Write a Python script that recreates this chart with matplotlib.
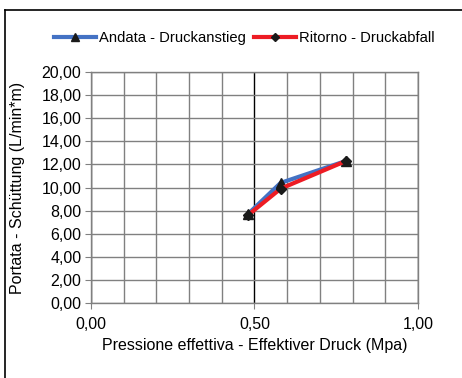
import matplotlib
matplotlib.use("Agg")
import matplotlib.pyplot as plt
from matplotlib.ticker import MultipleLocator, FuncFormatter
from matplotlib.lines import Line2D

plt.rcParams['font.family'] = ['Liberation Sans', 'DejaVu Sans']

andata_x = [0.48, 0.58, 0.78]
andata_y = [7.7, 10.4, 12.3]
ritorno_x = [0.48, 0.58, 0.78]
ritorno_y = [7.6, 9.9, 12.3]

FS = 11.5
LFS = 10.6

fig = plt.figure(figsize=(4.62, 3.78), dpi=100)
ax = fig.add_axes([91/462, 75/378, 327/462, 231/378])

ax.plot(andata_x, andata_y, color='#4472C4', lw=3, marker='^', ms=6.5,
        mfc='#1a1a1a', mec='#1a1a1a', label='Andata - Druckanstieg', zorder=3)
ax.plot(ritorno_x, ritorno_y, color='#ED1C24', lw=3, marker='D', ms=5,
        mfc='#1a1a1a', mec='#1a1a1a', label='Ritorno - Druckabfall', zorder=4)

ax.set_xlim(0, 1)
ax.set_ylim(0, 20)
ax.xaxis.set_major_locator(MultipleLocator(0.5))
ax.xaxis.set_minor_locator(MultipleLocator(0.1))
ax.yaxis.set_major_locator(MultipleLocator(2))
fmt = FuncFormatter(lambda v, p: f"{v:.2f}".replace('.', ','))
ax.xaxis.set_major_formatter(fmt)
ax.yaxis.set_major_formatter(fmt)

ax.grid(which='minor', axis='x', color='#808080', lw=1)
ax.grid(which='major', axis='x', color='#000000', lw=1)
ax.grid(which='major', axis='y', color='#808080', lw=1)
ax.set_axisbelow(True)
for s in ax.spines.values():
    s.set_color('#808080')
    s.set_linewidth(1)
ax.tick_params(axis='both', which='major', direction='out', length=4,
               color='#808080', labelsize=FS)
ax.tick_params(axis='x', pad=6)
ax.tick_params(axis='x', which='minor', length=0)
ax.tick_params(axis='y', pad=3)

ax.set_xlabel('Pressione effettiva - Effektiver Druck (Mpa)', fontsize=FS)
ax.set_ylabel('Portata - Schüttung (L/min*m)', fontsize=FS)
ax.xaxis.set_label_coords(0.5, (303-338)/231)
ax.yaxis.set_label_coords((25-91)/327, 0.5)

handles, labels = ax.get_legend_handles_labels()
leg = fig.legend(handles, labels, loc='center', bbox_to_anchor=(244.5/462, 1-38/378),
                 ncol=2, frameon=False, fontsize=LFS, handlelength=2.85,
                 handletextpad=0.2, columnspacing=0.55, markerscale=0.8)

fig.add_artist(Line2D([5/462, 5/462], [0, 1-10/378], transform=fig.transFigure, color='black', lw=1.2))
fig.add_artist(Line2D([5/462, 1], [1-10/378, 1-10/378], transform=fig.transFigure, color='black', lw=1.2))

fig.savefig('out.png', dpi=100)
